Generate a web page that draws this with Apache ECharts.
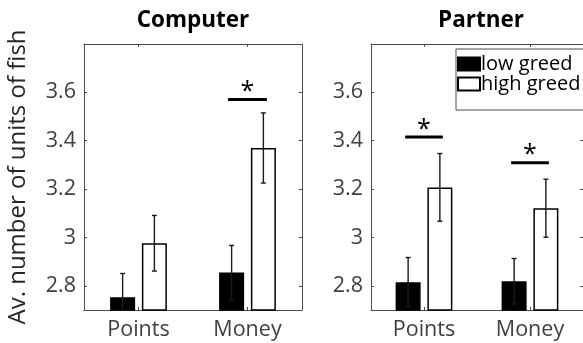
<!DOCTYPE html>
<html>
<head>
<meta charset="utf-8">
<script src="https://cdn.jsdelivr.net/npm/echarts@6/dist/echarts.min.js"></script>
<style>
  html, body { margin: 0; padding: 0; background: #fff; }
  #chart { width: 583px; height: 343px; }
</style>
</head>
<body>
<div id="chart"></div>
<script>
// Conditions on the x axis
const categories = ['Points', 'Money'];

// Computer panel: means and standard errors
const computerLow = [2.753, 2.855];
const computerLowErr = [0.098, 0.112];
const computerHigh = [2.976, 3.370];
const computerHighErr = [0.115, 0.145];
// height of the significance bar per condition (null = none)
const computerSig = [null, 3.571];

// Partner panel: means and standard errors
const partnerLow = [2.815, 2.819];
const partnerLowErr = [0.102, 0.094];
const partnerHigh = [3.207, 3.121];
const partnerHighErr = [0.140, 0.120];
const partnerSig = [3.415, 3.309];

// y ticks
const yTicks = [2.8, 3.0, 3.2, 3.4, 3.6];
const yMin = 2.7, yMax = 3.8;

const FONT = 'Open Sans';
const AXIS_COLOR = '#4d4d4d';
const LABEL_COLOR = '#404040';
const BAR_W = 25;
const BAR_GAP = 0.27;
const BAR_OFFSET = (BAR_W + BAR_W * BAR_GAP) / 2;

const chart = echarts.init(document.getElementById('chart'), null, { renderer: 'canvas' });

function yAxisDef(gridIndex, position, showLabels, name) {
  return {
    type: 'value', gridIndex: gridIndex, position: position,
    min: yMin, max: yMax,
    name: name || '',
    nameLocation: 'middle', nameRotate: 90, nameGap: 54,
    nameTextStyle: { fontFamily: FONT, fontSize: 24, color: '#262626' },
    axisLine: { show: true, lineStyle: { color: AXIS_COLOR, width: 1 } },
    axisTick: { show: true, inside: true, length: 3, customValues: yTicks,
                lineStyle: { color: AXIS_COLOR } },
    axisLabel: { show: showLabels, customValues: yTicks, margin: 8,
                 fontFamily: FONT, fontSize: 21.5, color: LABEL_COLOR,
                 formatter: v => String(Math.round(v * 10) / 10) },
    splitLine: { show: false }
  };
}

function xAxisDef(gridIndex, position, showLabels) {
  return {
    type: 'category', gridIndex: gridIndex, position: position,
    data: categories, boundaryGap: true,
    axisLine: { show: true, lineStyle: { color: AXIS_COLOR, width: 1 } },
    axisTick: { show: true, inside: true, length: 3, alignWithLabel: true,
                lineStyle: { color: AXIS_COLOR } },
    axisLabel: { show: showLabels, margin: 9, fontFamily: FONT, fontSize: 21.5, color: LABEL_COLOR },
    splitLine: { show: false }
  };
}

function barSeries(name, values, axisIdx, fill) {
  return {
    type: 'bar', name: name, xAxisIndex: axisIdx, yAxisIndex: axisIdx,
    data: values, barWidth: BAR_W, barGap: (BAR_GAP * 100) + '%',
    itemStyle: { color: fill, borderColor: '#000', borderWidth: 1.5 },
    emphasis: { disabled: true }, z: 2
  };
}

function errorSeries(values, errs, axisIdx, side) {
  return {
    type: 'custom', xAxisIndex: axisIdx, yAxisIndex: axisIdx, z: 5, silent: true,
    clip: true,
    data: values.map((v, i) => [i, v, errs[i]]),
    renderItem: function (params, api) {
      const i = api.value(0), v = api.value(1), e = api.value(2);
      const x = api.coord([i, v])[0] + side * BAR_OFFSET;
      const yt = api.coord([i, v + e])[1];
      const yb = api.coord([i, v - e])[1];
      const st = { stroke: '#1a1a1a', lineWidth: 1.4 };
      return {
        type: 'group',
        children: [
          { type: 'line', shape: { x1: x, y1: yt, x2: x, y2: yb }, style: st },
          { type: 'line', shape: { x1: x - 2.5, y1: yt, x2: x + 2.5, y2: yt }, style: st },
          { type: 'line', shape: { x1: x - 2.5, y1: yb, x2: x + 2.5, y2: yb }, style: st }
        ]
      };
    }
  };
}

function sigSeries(levels, axisIdx) {
  const data = [];
  levels.forEach((v, i) => { if (v !== null) data.push([i, v]); });
  return {
    type: 'custom', xAxisIndex: axisIdx, yAxisIndex: axisIdx, z: 6, silent: true,
    clip: false,
    data: data,
    renderItem: function (params, api) {
      const p = api.coord([api.value(0), api.value(1)]);
      const half = api.size([1, 0])[0] * 0.178;
      return {
        type: 'group',
        children: [
          { type: 'line', shape: { x1: p[0] - half, y1: p[1], x2: p[0] + half, y2: p[1] },
            style: { stroke: '#000', lineWidth: 3 } },
          { type: 'text', x: p[0], y: p[1] + 5,
            style: { text: '*', fill: '#000', font: '25px "' + FONT + '"',
                     align: 'center', verticalAlign: 'bottom' } }
        ]
      };
    }
  };
}

const option = {
  backgroundColor: '#fff',
  animation: false,
  grid: [
    { left: 84, top: 44, width: 218, height: 266 },
    { left: 371, top: 44, width: 218, height: 266 }
  ],
  xAxis: [
    xAxisDef(0, 'bottom', true),
    xAxisDef(1, 'bottom', true),
    xAxisDef(0, 'top', false),
    xAxisDef(1, 'top', false)
  ],
  yAxis: [
    yAxisDef(0, 'left', true, 'Av. number of units of fish'),
    yAxisDef(1, 'left', true),
    yAxisDef(0, 'right', false),
    yAxisDef(1, 'right', false)
  ],
  legend: {
    data: ['low greed', 'high greed'],
    orient: 'vertical', left: 456, top: 49,
    itemWidth: 22, itemHeight: 13, itemGap: 0,
    padding: [5, 24, 16, 1],
    icon: 'rect',
    selectedMode: false,
    borderColor: AXIS_COLOR, borderWidth: 1, backgroundColor: '#fff',
    textStyle: { fontFamily: FONT, fontSize: 20, color: '#000', padding: [0, 0, 0, -4] }
  },
  graphic: [
    { type: 'text', x: 193, y: 21,
      style: { text: 'Computer', font: 'bold 22.5px "' + FONT + '"', fill: '#000',
               align: 'center', verticalAlign: 'middle' } },
    { type: 'text', x: 481, y: 21,
      style: { text: 'Partner', font: 'bold 22.5px "' + FONT + '"', fill: '#000',
               align: 'center', verticalAlign: 'middle' } }
  ],
  series: [
    barSeries('low greed', computerLow, 0, '#000'),
    barSeries('high greed', computerHigh, 0, '#fff'),
    barSeries('low greed', partnerLow, 1, '#000'),
    barSeries('high greed', partnerHigh, 1, '#fff'),
    errorSeries(computerLow, computerLowErr, 0, -1),
    errorSeries(computerHigh, computerHighErr, 0, 1),
    errorSeries(partnerLow, partnerLowErr, 1, -1),
    errorSeries(partnerHigh, partnerHighErr, 1, 1),
    sigSeries(computerSig, 0),
    sigSeries(partnerSig, 1)
  ]
};

chart.setOption(option);
</script>
</body>
</html>
